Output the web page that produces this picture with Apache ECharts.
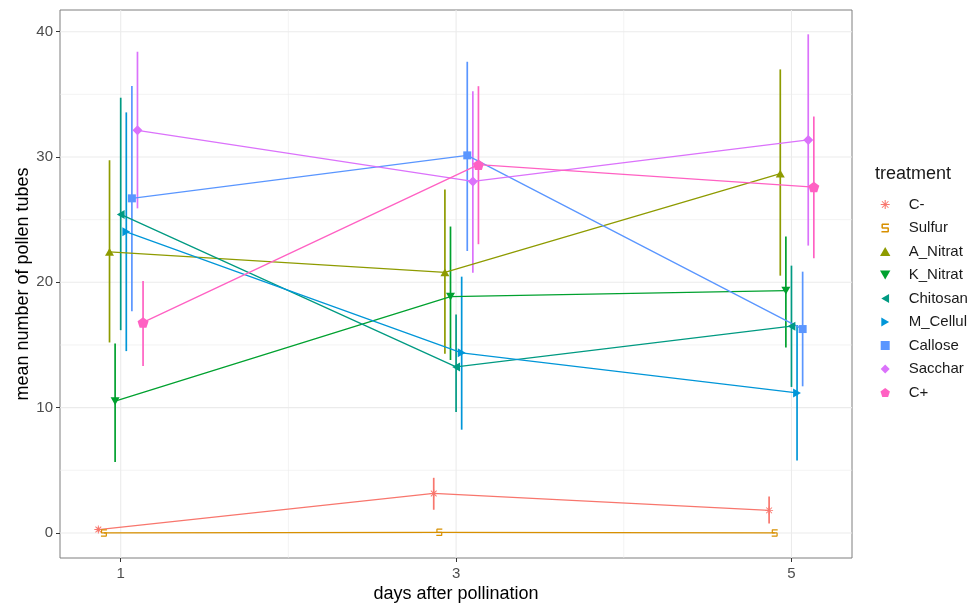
<!DOCTYPE html>
<html>
<head>
<meta charset="utf-8">
<script src="https://cdn.jsdelivr.net/npm/echarts@6/dist/echarts.min.js"></script>
<style>
  html, body { margin: 0; padding: 0; background: #fff; }
  #chart { width: 975px; height: 604px; }
</style>
</head>
<body>
<div id="chart"></div>
<script>
// data
var days = [1, 3, 5];
var treatments = ['C-', 'Sulfur', 'A_Nitrat', 'K_Nitrat', 'Chitosan', 'M_Cellul', 'Callose', 'Sacchar', 'C+'];

var meanCminus = [0.27, 3.15, 1.8];
var meanSulfur = [0, 0.05, 0];
var meanANitrat = [22.43, 20.8, 28.67];
var meanKNitrat = [10.51, 18.85, 19.33];
var meanChitosan = [25.42, 13.25, 16.5];
var meanMCellul = [24.03, 14.37, 11.17];
var meanCallose = [26.7, 30.13, 16.27];
var meanSacchar = [32.13, 28.05, 31.36];
var meanCplus = [16.8, 29.39, 27.6];

var loCminus = [0.1, 1.85, 0.75];
var loSulfur = [0, 0.05, 0];
var loANitrat = [15.2, 14.3, 20.53];
var loKNitrat = [5.67, 13.8, 14.8];
var loChitosan = [16.18, 9.65, 11.65];
var loMCellul = [14.51, 8.24, 5.79];
var loCallose = [17.7, 22.5, 11.7];
var loSacchar = [25.9, 20.77, 22.93];
var loCplus = [13.33, 23.04, 21.92];

var hiCminus = [0.45, 4.4, 2.9];
var hiSulfur = [0, 0.05, 0];
var hiANitrat = [29.74, 27.4, 36.99];
var hiKNitrat = [15.12, 24.45, 23.65];
var hiChitosan = [34.73, 17.44, 21.33];
var hiMCellul = [33.56, 20.45, 16.6];
var hiCallose = [35.66, 37.6, 20.85];
var hiSacchar = [38.4, 35.25, 39.79];
var hiCplus = [20.1, 35.65, 33.23];

var xTicks = [1, 3, 5];
var xMinor = [2, 4];
var yTicks = [0, 10, 20, 30, 40];
var yMinor = [5, 15, 25, 35];

var means = [meanCminus, meanSulfur, meanANitrat, meanKNitrat, meanChitosan, meanMCellul, meanCallose, meanSacchar, meanCplus];
var lows = [loCminus, loSulfur, loANitrat, loKNitrat, loChitosan, loMCellul, loCallose, loSacchar, loCplus];
var highs = [hiCminus, hiSulfur, hiANitrat, hiKNitrat, hiChitosan, hiMCellul, hiCallose, hiSacchar, hiCplus];

var colors = ['#F8766D', '#D89000', '#8E9B00', '#00A12F', '#009A82', '#0096D8', '#5A96FF', '#DB72FB', '#FF61C3'];

// marker shapes (paths so the legend keeps their aspect)
var shapes = [
  'path://M-0.6,-5L0.6,-5L0.6,5L-0.6,5ZM-5,-0.6L5,-0.6L5,0.6L-5,0.6ZM-4,-3.2L-3.2,-4L4,3.2L3.2,4ZM3.2,-4L4,-3.2L-3.2,4L-4,3.2Z',
  'path://M10,0L1,0L0,1L0,6L1,7L8,7L8,10L0,10L0,12L9,12L10,11L10,6L9,5L2,5L2,2L10,2Z',
  'path://M0,0L1,1.732L-1,1.732Z',
  'path://M-1,0L1,0L0,1.732Z',
  'path://M0,1L1.732,0L1.732,2Z',
  'path://M0,0L1.732,1L0,2Z',
  'path://M0,0L1,0L1,1L0,1Z',
  'path://M0,-1L1,0L0,1L-1,0Z',
  'path://M0,-1L0.951,-0.309L0.588,0.809L-0.588,0.809L-0.951,-0.309Z'
];
var sizes = [8, [6, 7.5], [9, 7.8], [9, 7.8], [7.8, 9], [7.8, 9], 8, 10, [11, 10.5]];

var dodge = 0.3;
var FONT = '"Liberation Sans", Arial, sans-serif';

var series = [];

// grid lines
series.push({
  type: 'custom', z: 0, silent: true, animation: false,
  data: xTicks.map(function (v) { return [v, 10, 1]; }).concat(xMinor.map(function (v) { return [v, 10, 0]; })),
  renderItem: function (params, api) {
    var cs = params.coordSys;
    var x = api.coord([api.value(0), api.value(1)])[0];
    var major = api.value(2) === 1;
    return { type: 'line', shape: { x1: x, y1: cs.y, x2: x, y2: cs.y + cs.height },
      style: { stroke: '#EBEBEB', lineWidth: major ? 1.1 : 0.6 } };
  }
});
series.push({
  type: 'custom', z: 0, silent: true, animation: false,
  data: yTicks.map(function (v) { return [3, v, 1]; }).concat(yMinor.map(function (v) { return [3, v, 0]; })),
  renderItem: function (params, api) {
    var cs = params.coordSys;
    var y = api.coord([api.value(0), api.value(1)])[1];
    var major = api.value(2) === 1;
    return { type: 'line', shape: { x1: cs.x, y1: y, x2: cs.x + cs.width, y2: y },
      style: { stroke: '#EBEBEB', lineWidth: major ? 1.1 : 0.6 } };
  }
});

treatments.forEach(function (name, i) {
  var off = (i - (treatments.length - 1) / 2) * dodge / treatments.length;
  var pts = days.map(function (d, j) { return [d + off, means[i][j]]; });
  var bars = days.map(function (d, j) { return [d + off, lows[i][j], highs[i][j]]; });
  // error bars
  series.push({
    type: 'custom',
    z: 2,
    silent: true,
    animation: false,
    data: bars,
    renderItem: function (params, api) {
      var p1 = api.coord([api.value(0), api.value(1)]);
      var p2 = api.coord([api.value(0), api.value(2)]);
      return { type: 'line', shape: { x1: p1[0], y1: p1[1], x2: p2[0], y2: p2[1] },
        style: { stroke: colors[i], lineWidth: 1.7 } };
    }
  });
  series.push({
    name: name,
    type: 'line',
    z: 3,
    silent: true,
    animation: false,
    data: pts,
    symbol: shapes[i],
    symbolSize: sizes[i],
    showAllSymbol: true,
    color: colors[i],
    lineStyle: { color: colors[i], width: 1.3 },
    itemStyle: { color: colors[i] }
  });
});

var chart = echarts.init(document.getElementById('chart'), null, { renderer: 'canvas' });
chart.setOption({
  animation: false,
  backgroundColor: '#ffffff',
  title: {
    text: 'treatment',
    left: 870, top: 160,
    textStyle: { fontFamily: FONT, fontSize: 18, fontWeight: 'normal', color: '#1a1a1a' }
  },
  legend: {
    orient: 'vertical',
    left: 875, top: 192,
    itemWidth: 37, itemHeight: 9, itemGap: 8.5,
    selectedMode: false,
    data: treatments.map(function (n, i) { return { name: n, icon: shapes[i] }; }),
    textStyle: { fontFamily: FONT, fontSize: 15, color: '#1a1a1a' }
  },
  grid: {
    left: 60, right: 123, top: 10, bottom: 46,
    outerBoundsMode: 'none',
    show: true, borderColor: '#7f7f7f', borderWidth: 1, backgroundColor: '#ffffff'
  },
  xAxis: {
    type: 'value',
    min: 0.638, max: 5.361,
    name: 'days after pollination',
    nameLocation: 'middle', nameGap: 27, nameMoveOverlap: false,
    nameTextStyle: { fontFamily: FONT, fontSize: 18, color: '#000' },
    axisLine: { show: false, onZero: false },
    axisTick: { show: true, length: 4, customValues: xTicks, lineStyle: { color: '#333' } },
    axisLabel: { customValues: xTicks, margin: 8, fontFamily: FONT, fontSize: 15, color: '#4D4D4D' },
    splitLine: { show: false }
  },
  yAxis: {
    type: 'value',
    min: -2.0, max: 41.73,
    name: 'mean number of pollen tubes',
    nameLocation: 'middle', nameGap: 28, nameRotate: 90, nameMoveOverlap: false,
    nameTextStyle: { fontFamily: FONT, fontSize: 18, color: '#000' },
    axisLine: { show: false, onZero: false },
    axisTick: { show: true, length: 4, customValues: yTicks, lineStyle: { color: '#333' } },
    axisLabel: { customValues: yTicks, margin: 7, fontFamily: FONT, fontSize: 15, color: '#4D4D4D' },
    splitLine: { show: false }
  },
  series: series
});
</script>
</body>
</html>
